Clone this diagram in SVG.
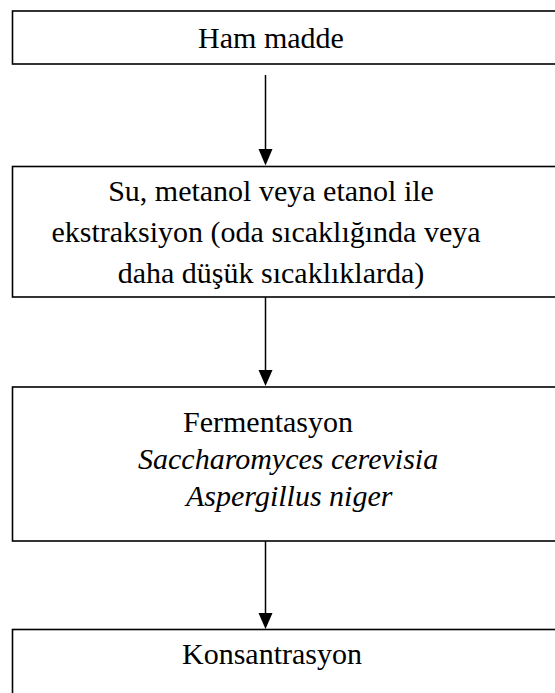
<svg xmlns="http://www.w3.org/2000/svg" width="555" height="693" viewBox="0 0 555 693">
<style>
.box{fill:#fff;stroke:#000;stroke-width:1.6}
.t{font-family:"Liberation Serif","Times New Roman",serif;font-size:30px;fill:#000}
.c{text-anchor:middle}
.i{font-style:italic}
.ln{stroke:#000;stroke-width:1.5;fill:none}
.hd{fill:#000}
</style>
<g id="connectors">
<line class="ln" x1="265.5" y1="75" x2="265.5" y2="150"/>
<polygon class="hd" points="258.5,149 272.5,149 265.5,165.5"/>
<line class="ln" x1="265.5" y1="297" x2="265.5" y2="371"/>
<polygon class="hd" points="258.5,370 272.5,370 265.5,386"/>
<line class="ln" x1="265.5" y1="541" x2="265.5" y2="614"/>
<polygon class="hd" points="258.5,613 272.5,613 265.5,629"/>
</g>
<g id="n1">
<rect class="box" x="12.5" y="11" width="560" height="53"/>
<text class="t c" x="271" y="48">Ham madde</text>
</g>
<g id="n2">
<rect class="box" x="12.5" y="166.5" width="560" height="130.5"/>
<text class="t c" x="271" y="201">Su, metanol veya etanol ile</text>
<text class="t c" x="266" y="242">ekstraksiyon (oda sıcaklığında veya</text>
<text class="t c" x="271" y="283">daha düşük sıcaklıklarda)</text>
</g>
<g id="n3">
<rect class="box" x="12.5" y="387" width="560" height="154"/>
<text class="t" x="183" y="432">Fermentasyon</text>
<text class="t i" x="138" y="469">Saccharomyces cerevisia</text>
<text class="t i" x="186" y="506">Aspergillus niger</text>
</g>
<g id="n4">
<rect class="box" x="12.5" y="629.5" width="560" height="80"/>
<text class="t c" x="272" y="664">Konsantrasyon</text>
</g>
</svg>
